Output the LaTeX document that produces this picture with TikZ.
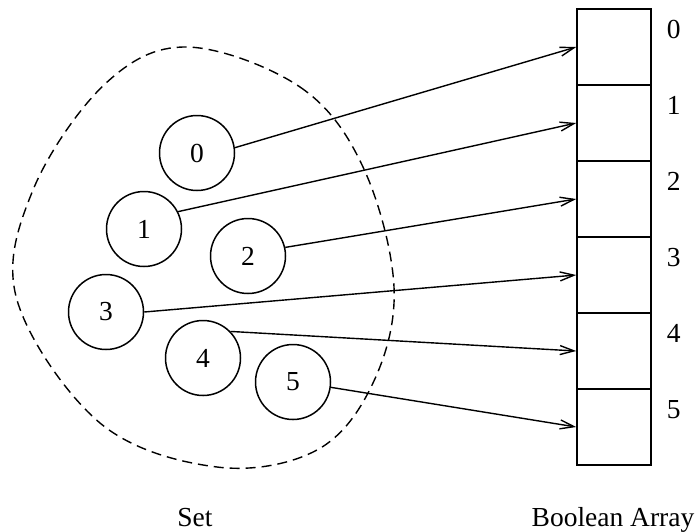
\documentclass[tikz,border=0pt]{standalone}
\usepackage{fontspec}
\setmainfont{Liberation Serif}
\usetikzlibrary{arrows.meta}
\begin{document}
\begin{tikzpicture}[x=1pt,y=-1pt,
  every node/.style={font=\fontsize{27.5}{30}\selectfont},
  elem/.style={draw,circle,line width=1.5pt,minimum size=75pt,inner sep=0pt},
  cell/.style={draw,rectangle,line width=1.6pt,minimum width=74pt,minimum height=76pt,inner sep=0pt},
  arr/.style={line width=1.4pt,-{Straight Barb[length=14pt,width=9pt,line width=1.4pt]}},
  setline/.style={line width=1.4pt,dash pattern=on 10pt off 6pt}]
\useasboundingbox (0,0) rectangle (700,531);
% dashed set boundary
\draw[setline] plot[smooth cycle,tension=0.6] coordinates {
  (187,47) (300,87) (363,167) (394,287) (373,383) (317,450) (217,467)
  (100,423) (17,300) (33,190) (105,84)};
% set elements
\node[elem] (n0) at (197,153) {0};
\node[elem] (n1) at (144,229) {1};
\node[elem] (n2) at (248,256) {2};
\node[elem] (n3) at (106,312) {3};
\node[elem] (n4) at (203,358) {4};
\node[elem] (n5) at (293,382) {5};
% boolean array
\node[cell] (c0) at (614,47) {};
\node[cell] (c1) at (614,123) {};
\node[cell] (c2) at (614,199) {};
\node[cell] (c3) at (614,275) {};
\node[cell] (c4) at (614,351) {};
\node[cell] (c5) at (614,427) {};
\foreach \i in {0,...,5}{
  \node (l\i) at ([shift={(22,21)}]c\i.north east) {\i};
}
% arrows
\draw[arr] (n0.8) -- (c0.west);
\draw[arr] (n1.27) -- (c1.west);
\draw[arr] (n2.13) -- (c2.west);
\draw[arr] (n3.0) -- (c3.west);
\draw[arr] (n4.44) -- (c4.west);
\draw[arr] (n5.-8) -- (c5.west);
% captions
\node[anchor=base] (setlbl) at (195,526) {Set};
\node[anchor=base] (arrlbl) at (613,526) {Boolean Array};
\end{tikzpicture}
\end{document}
